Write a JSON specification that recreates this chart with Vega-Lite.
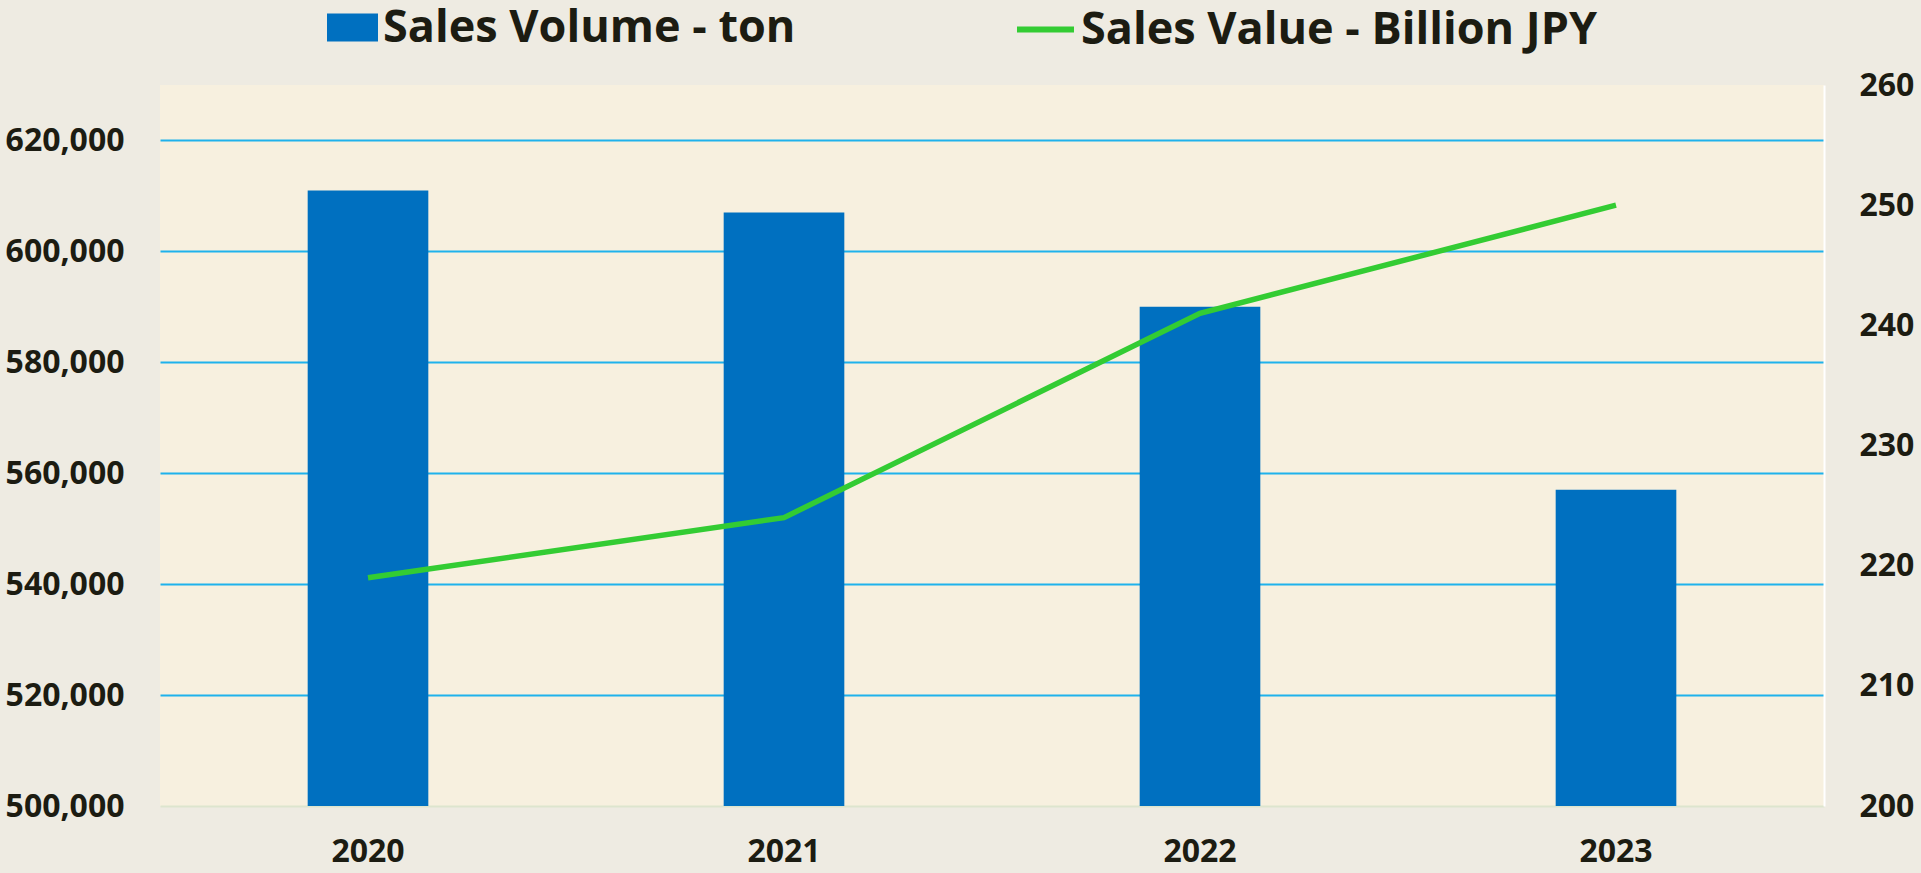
{
  "$schema": "https://vega.github.io/schema/vega-lite/v6.json",
  "width": 1664,
  "height": 721,
  "autosize": {"type": "none"},
  "padding": {"left": 160, "top": 85, "right": 97, "bottom": 67},
  "background": "#EEEBE2",
  "config": {
    "view": {"fill": "#F7F0DF", "stroke": null},
    "font": "Open Sans"
  },
  "data": {
    "values": [
      {"year": "2020", "volume": 611000, "value": 219, "vlabel": "Sales Volume - ton", "llabel": "Sales Value - Billion JPY"},
      {"year": "2021", "volume": 607000, "value": 224, "vlabel": "Sales Volume - ton", "llabel": "Sales Value - Billion JPY"},
      {"year": "2022", "volume": 590000, "value": 241, "vlabel": "Sales Volume - ton", "llabel": "Sales Value - Billion JPY"},
      {"year": "2023", "volume": 557000, "value": 250, "vlabel": "Sales Volume - ton", "llabel": "Sales Value - Billion JPY"}
    ]
  },
  "encoding": {
    "x": {
      "field": "year",
      "type": "nominal",
      "scale": {"paddingInner": 0.71, "paddingOuter": 0.355},
      "axis": {
        "title": null,
        "labelAngle": 0,
        "ticks": false,
        "domain": true,
        "domainColor": "#DDE5CE",
        "domainWidth": 2,
        "labelFont": "Open Sans",
        "labelFontWeight": "bold",
        "labelFontSize": 32,
        "labelColor": "#1C1C12",
        "labelPadding": 30
      }
    }
  },
  "layer": [
    {
      "mark": {"type": "bar", "clip": true},
      "encoding": {
        "y": {
          "field": "volume",
          "type": "quantitative",
          "scale": {"domain": [500000, 630000], "nice": false, "zero": false},
          "axis": {
            "title": null,
            "orient": "left",
            "values": [500000, 520000, 540000, 560000, 580000, 600000, 620000],
            "format": ",d",
            "ticks": false,
            "domain": false,
            "grid": true,
            "gridColor": {"condition": {"test": "datum.value == 500000", "value": "transparent"}, "value": "#1FB2EC"},
            "gridWidth": 2,
            "labelFont": "Open Sans",
            "labelFontWeight": "bold",
            "labelFontSize": 32,
            "labelColor": "#1C1C12",
            "labelPadding": 36
          }
        },
        "color": {
          "field": "vlabel",
          "type": "nominal",
          "scale": {"domain": ["Sales Volume - ton"], "range": ["#0070C0"]},
          "legend": {
            "title": null,
            "orient": "none",
            "legendX": 167,
            "legendY": -83,
            "direction": "horizontal",
            "symbolType": "M-1,-0.55H1V0.55H-1Z",
            "symbolSize": 2601,
            "symbolStrokeWidth": 0,
            "labelFont": "Open Sans",
            "labelFontWeight": "bold",
            "labelFontSize": 45,
            "labelColor": "#1C1C12",
            "labelOffset": 5,
            "labelLimit": 1000,
            "padding": 0
          }
        }
      }
    },
    {
      "mark": {"type": "line", "strokeWidth": 5.5},
      "encoding": {
        "y": {
          "field": "value",
          "type": "quantitative",
          "scale": {"domain": [200, 260], "nice": false, "zero": false},
          "axis": {
            "title": null,
            "orient": "right",
            "values": [200, 210, 220, 230, 240, 250, 260],
            "ticks": false,
            "domain": true,
            "domainColor": "#FFFFFF",
            "domainWidth": 2,
            "grid": false,
            "labelFont": "Open Sans",
            "labelFontWeight": "bold",
            "labelFontSize": 32,
            "labelColor": "#1C1C12",
            "labelPadding": 35
          }
        },
        "color": {
          "field": "llabel",
          "type": "nominal",
          "scale": {"domain": ["Sales Value - Billion JPY"], "range": ["#33CC33"]},
          "legend": {
            "title": null,
            "orient": "none",
            "legendX": 854,
            "legendY": -87,
            "direction": "horizontal",
            "symbolType": "stroke",
            "symbolSize": 3249,
            "symbolStrokeWidth": 6,
            "labelFont": "Open Sans",
            "labelFontWeight": "bold",
            "labelFontSize": 45,
            "labelColor": "#1C1C12",
            "labelOffset": 4,
            "labelLimit": 1000,
            "padding": 0
          }
        }
      }
    }
  ],
  "resolve": {"scale": {"y": "independent", "color": "independent"}, "legend": {"color": "independent"}}
}
